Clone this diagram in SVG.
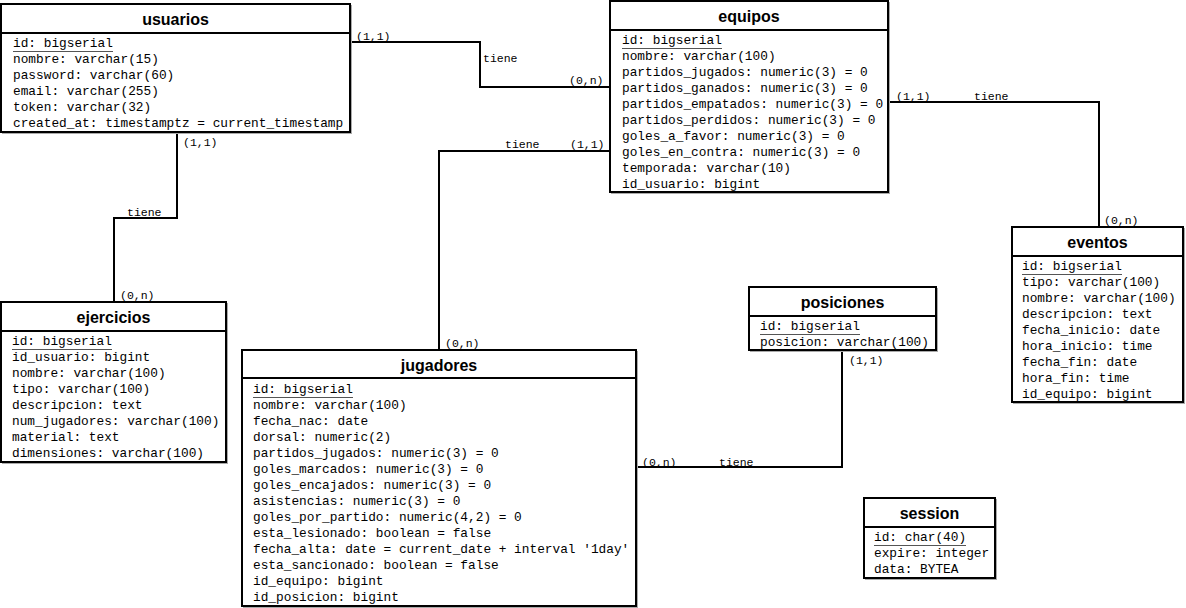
<svg xmlns="http://www.w3.org/2000/svg" width="1186" height="608" viewBox="0 0 1186 608">
<style>
.box{fill:#fff;stroke:#000;stroke-width:2}
.sh{fill:none;stroke:#aaa;stroke-width:1}
.hd{stroke:#000;stroke-width:2}
.ul{stroke:#555;stroke-width:1}
.t{font-family:"Liberation Sans",Arial,sans-serif;font-weight:bold;font-size:16px;text-anchor:middle;fill:#000}
.f{font-family:"Liberation Mono","Courier New",monospace;font-size:12.8px;fill:#000}
.c{fill:none;stroke:#000;stroke-width:2}
.l{font-family:"Liberation Mono","Courier New",monospace;font-size:11.5px;fill:#000}
</style>
<rect width="1186" height="608" fill="#fff"/>
<g id="connectors">
<polyline class="c" points="351,42 480,42 480,87 610,87"/>
<text class="l" x="356" y="40">(1,1)</text>
<text class="l" x="483" y="62">tiene</text>
<text class="l" x="569" y="84">(0,n)</text>
<polyline class="c" points="610,151 439,151 439,350"/>
<text class="l" x="505" y="148">tiene</text>
<text class="l" x="570" y="148">(1,1)</text>
<text class="l" x="445" y="347">(0,n)</text>
<polyline class="c" points="177,132 177,218 114,218 114,302"/>
<text class="l" x="183" y="146">(1,1)</text>
<text class="l" x="127" y="216">tiene</text>
<text class="l" x="120" y="299">(0,n)</text>
<polyline class="c" points="888,102 1099,102 1099,227"/>
<text class="l" x="896" y="100">(1,1)</text>
<text class="l" x="974" y="100">tiene</text>
<text class="l" x="1104" y="224">(0,n)</text>
<polyline class="c" points="842,350 842,467 636,467"/>
<text class="l" x="849" y="364">(1,1)</text>
<text class="l" x="642" y="466">(0,n)</text>
<text class="l" x="719" y="466">tiene</text>
</g>
<g id="usuarios">
<rect class="sh" x="2.5" y="5.5" width="349" height="128"/>
<rect class="box" x="1" y="4" width="349" height="128"/>
<line class="hd" x1="1" y1="33" x2="350" y2="33"/>
<text class="t" x="175.5" y="25">usuarios</text>
<text class="f" x="13" y="47">id: bigserial</text>
<line class="ul" x1="13" y1="51.5" x2="113" y2="51.5"/>
<text class="f" x="13" y="63">nombre: varchar(15)</text>
<text class="f" x="13" y="79">password: varchar(60)</text>
<text class="f" x="13" y="95">email: varchar(255)</text>
<text class="f" x="13" y="111">token: varchar(32)</text>
<text class="f" x="13" y="127">created_at: timestamptz = current_timestamp</text>
</g>
<g id="equipos">
<rect class="sh" x="611.5" y="2.5" width="278" height="191"/>
<rect class="box" x="610" y="1" width="278" height="191"/>
<line class="hd" x1="610" y1="30" x2="888" y2="30"/>
<text class="t" x="749" y="22">equipos</text>
<text class="f" x="622" y="44">id: bigserial</text>
<line class="ul" x1="622" y1="48.5" x2="722" y2="48.5"/>
<text class="f" x="622" y="60">nombre: varchar(100)</text>
<text class="f" x="622" y="76">partidos_jugados: numeric(3) = 0</text>
<text class="f" x="622" y="92">partidos_ganados: numeric(3) = 0</text>
<text class="f" x="622" y="108">partidos_empatados: numeric(3) = 0</text>
<text class="f" x="622" y="124">partidos_perdidos: numeric(3) = 0</text>
<text class="f" x="622" y="140">goles_a_favor: numeric(3) = 0</text>
<text class="f" x="622" y="156">goles_en_contra: numeric(3) = 0</text>
<text class="f" x="622" y="172">temporada: varchar(10)</text>
<text class="f" x="622" y="188">id_usuario: bigint</text>
</g>
<g id="ejercicios">
<rect class="sh" x="2.5" y="303.5" width="225" height="160"/>
<rect class="box" x="1" y="302" width="225" height="160"/>
<line class="hd" x1="1" y1="331" x2="226" y2="331"/>
<text class="t" x="113.5" y="323">ejercicios</text>
<text class="f" x="12" y="345">id: bigserial</text>
<line class="ul" x1="12" y1="349.5" x2="112" y2="349.5"/>
<text class="f" x="12" y="361">id_usuario: bigint</text>
<text class="f" x="12" y="377">nombre: varchar(100)</text>
<text class="f" x="12" y="393">tipo: varchar(100)</text>
<text class="f" x="12" y="409">descripcion: text</text>
<text class="f" x="12" y="425">num_jugadores: varchar(100)</text>
<text class="f" x="12" y="441">material: text</text>
<text class="f" x="12" y="457">dimensiones: varchar(100)</text>
</g>
<g id="jugadores">
<rect class="sh" x="243.5" y="351.5" width="394" height="256"/>
<rect class="box" x="242" y="350" width="394" height="256"/>
<line class="hd" x1="242" y1="378" x2="636" y2="378"/>
<text class="t" x="439" y="371">jugadores</text>
<text class="f" x="253" y="393">id: bigserial</text>
<line class="ul" x1="253" y1="397.5" x2="353" y2="397.5"/>
<text class="f" x="253" y="409">nombre: varchar(100)</text>
<text class="f" x="253" y="425">fecha_nac: date</text>
<text class="f" x="253" y="441">dorsal: numeric(2)</text>
<text class="f" x="253" y="457">partidos_jugados: numeric(3) = 0</text>
<text class="f" x="253" y="473">goles_marcados: numeric(3) = 0</text>
<text class="f" x="253" y="489">goles_encajados: numeric(3) = 0</text>
<text class="f" x="253" y="505">asistencias: numeric(3) = 0</text>
<text class="f" x="253" y="521">goles_por_partido: numeric(4,2) = 0</text>
<text class="f" x="253" y="537">esta_lesionado: boolean = false</text>
<text class="f" x="253" y="553">fecha_alta: date = current_date + interval '1day'</text>
<text class="f" x="253" y="569">esta_sancionado: boolean = false</text>
<text class="f" x="253" y="585">id_equipo: bigint</text>
<text class="f" x="253" y="601">id_posicion: bigint</text>
</g>
<g id="posiciones">
<rect class="sh" x="750.5" y="288.5" width="187" height="63"/>
<rect class="box" x="749" y="287" width="187" height="63"/>
<line class="hd" x1="749" y1="316" x2="936" y2="316"/>
<text class="t" x="842.5" y="308">posiciones</text>
<text class="f" x="760" y="330">id: bigserial</text>
<line class="ul" x1="760" y1="334.5" x2="860" y2="334.5"/>
<text class="f" x="760" y="346">posicion: varchar(100)</text>
</g>
<g id="eventos">
<rect class="sh" x="1013.5" y="228.5" width="171" height="175"/>
<rect class="box" x="1012" y="227" width="171" height="175"/>
<line class="hd" x1="1012" y1="256" x2="1183" y2="256"/>
<text class="t" x="1097.5" y="248">eventos</text>
<text class="f" x="1022" y="270">id: bigserial</text>
<line class="ul" x1="1022" y1="274.5" x2="1122" y2="274.5"/>
<text class="f" x="1022" y="286">tipo: varchar(100)</text>
<text class="f" x="1022" y="302">nombre: varchar(100)</text>
<text class="f" x="1022" y="318">descripcion: text</text>
<text class="f" x="1022" y="334">fecha_inicio: date</text>
<text class="f" x="1022" y="350">hora_inicio: time</text>
<text class="f" x="1022" y="366">fecha_fin: date</text>
<text class="f" x="1022" y="382">hora_fin: time</text>
<text class="f" x="1022" y="398">id_equipo: bigint</text>
</g>
<g id="session">
<rect class="sh" x="865.5" y="499.5" width="131" height="80"/>
<rect class="box" x="864" y="498" width="131" height="80"/>
<line class="hd" x1="864" y1="527" x2="995" y2="527"/>
<text class="t" x="929.5" y="519">session</text>
<text class="f" x="874" y="541">id: char(40)</text>
<line class="ul" x1="874" y1="545.5" x2="966" y2="545.5"/>
<text class="f" x="874" y="557">expire: integer</text>
<text class="f" x="874" y="573">data: BYTEA</text>
</g>
</svg>
